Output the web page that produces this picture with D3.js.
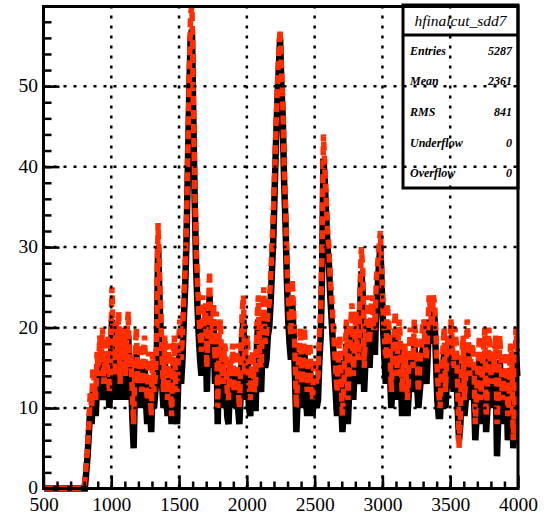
<!DOCTYPE html>
<html>
<head>
<meta charset="utf-8">
<script src="https://cdn.jsdelivr.net/npm/d3@7"></script>
<style>
  body { margin: 0; background: #fff; }
  svg { display: block; }
  svg text { font-family: "Liberation Serif", "Times New Roman", Tinos, "DejaVu Serif", serif; }
</style>
</head>
<body>
<svg id="chart" width="554" height="516"></svg>
<script>
// histogram bins: first bin center and width
let binStart = 505, binWidth = 10;

// black series (bin contents), 20 bins per row
let blackCounts = [
  0,0,0,0,0,0,0,0,0,0, 0,0,0,0,0,0,0,0,0,0,
  0,0,0,0,0,0,0,0,0,0, 0,2,4,7,10,8,12,11,9,13,
  11,15,13,17,11,14,12,16,10,13, 21,15,11,18,14,19,11,16,13,17,
  11,16,19,12,14,9,5,13,17,10, 12,15,10,13,16,11,8,14,10,7,
  14,10,12,15,30,24,19,13,10,16, 12,9,15,11,8,13,16,10,8,14,
  18,13,16,21,25,31,40,49,56,57, 46,36,28,23,19,16,14,21,17,20,
  12,18,24,15,17,20,13,19,8,16, 18,12,10,15,14,9,8,13,11,15,
  10,13,15,10,8,12,19,21,11,15, 16,10,9,13,14,10,10,18,21,13,
  12,17,22,15,16,19,20,23,27,31, 37,43,48,52,56,50,46,38,33,26,
  21,18,16,23,19,14,7,11,14,17, 10,13,17,12,9,15,15,11,9,13,
  13,10,11,16,19,27,41,38,34,30, 28,24,21,18,15,12,9,13,16,11,
  7,10,14,18,8,12,17,20,11,15, 19,14,13,22,27,24,12,16,18,21,
  15,19,21,17,17,23,25,28,30,25, 20,16,13,20,18,15,10,13,16,19,
  11,15,18,14,9,13,15,11,9,12, 17,14,12,18,16,13,10,12,14,17,
  18,15,13,17,21,20,18,22,21,16, 11,9,9,12,14,17,10,13,16,14,
  18,15,12,17,15,10,6,8,13,16, 9,11,18,15,11,14,15,12,6,9,
  12,16,8,11,14,17,7,10,17,13, 10,14,12,16,4,9,16,13,8,11,
  11,14,6,9,15,13,5,8,17,14
];

// red series (bin contents), drawn dashed on top
let redCounts = [
  0,0,0,0,0,0,0,0,0,0, 0,0,0,0,0,0,0,0,0,0,
  0,0,0,0,0,0,0,0,0,0, 1,3,5,8,12,10,15,13,11,17,
  14,19,16,20,13,17,15,19,12,16, 25,18,14,21,17,22,13,19,16,20,
  14,19,22,15,17,12,8,16,20,13, 15,18,12,16,19,14,11,17,13,9,
  17,12,14,18,33,27,22,16,12,19, 15,11,18,14,9,16,19,13,12,17,
  21,16,19,24,27,33,42,51,59,60, 48,38,30,26,22,19,17,24,20,23,
  15,21,27,18,20,23,16,22,10,19, 21,15,13,18,17,12,11,16,14,18,
  12,16,18,13,10,15,22,24,14,18, 19,13,11,16,17,12,13,21,24,16,
  15,20,25,18,19,22,23,26,30,34, 39,45,50,54,57,52,48,40,35,28,
  24,21,19,26,22,17,10,14,17,20, 13,16,20,15,12,18,18,14,11,16,
  16,13,14,19,22,30,44,40,36,32, 30,26,24,21,18,15,12,16,19,14,
  9,13,17,21,11,15,20,23,14,18, 22,17,16,25,30,27,15,19,21,24,
  18,22,24,20,20,26,28,30,32,27, 22,19,16,23,21,18,12,16,19,22,
  14,18,21,17,12,16,18,14,11,15, 20,17,15,21,19,16,12,15,17,20,
  21,18,16,20,24,22,20,24,23,19, 14,12,10,15,17,20,12,16,19,17,
  21,18,15,20,18,13,5,9,16,19, 11,14,21,18,14,17,18,15,8,12,
  15,19,11,14,17,20,9,13,20,16, 13,17,15,19,8,12,19,16,11,14,
  14,17,9,12,18,16,6,11,20,17
];

let xTicks = [500,1000,1500,2000,2500,3000,3500,4000];
let yTicks = [0,10,20,30,40,50];
let statTitle = "hfinalcut_sdd7";
let statNames = ["Entries","Mean","RMS","Underflow","Overflow"];
let statValues = ["5287","2361","841","0","0"];

let svg = d3.select("#chart");
let padL = 43.5, padR = 518, padT = 6.5, padB = 488.5;

let x = d3.scaleLinear().domain([500,4000]).range([padL,padR]);
let y = d3.scaleLinear().domain([0,59.9]).range([padB,padT]);

let line = d3.line()
    .x(function(d,i){ return x(binStart + i*binWidth); })
    .y(function(d){ return y(d); });

svg.append("path")
    .datum(blackCounts)
    .attr("d", line)
    .attr("fill","none")
    .attr("stroke","#000")
    .attr("stroke-width",6.5);

svg.append("path")
    .datum(redCounts)
    .attr("d", line)
    .attr("fill","none")
    .attr("stroke","#ff2d00")
    .attr("stroke-width",5.5)
    .attr("stroke-dasharray","9,5");

// stats box
let box = svg.append("g").attr("class","stats");
box.append("rect")
    .attr("x",403).attr("y",5).attr("width",115).attr("height",183)
    .attr("fill","#fff").attr("stroke","#000").attr("stroke-width",3);
box.append("line")
    .attr("x1",403).attr("x2",518).attr("y1",35).attr("y2",35)
    .attr("stroke","#000").attr("stroke-width",3);
box.append("text")
    .attr("x",460.5).attr("y",26)
    .attr("text-anchor","middle")
    .style("font-style","italic")
    .style("font-size","15.5px")
    .text(statTitle);
let rowH = 153/statNames.length;
statNames.forEach(function(n,i){
    let yy = 35 + rowH*(i+0.5) + 4.5;
    box.append("text")
        .attr("x",410).attr("y",yy)
        .style("font-style","italic").style("font-weight","bold")
        .style("font-size","12px")
        .text(n);
    box.append("text")
        .attr("x",512).attr("y",yy)
        .attr("text-anchor","end")
        .style("font-style","italic").style("font-weight","bold")
        .style("font-size","12px")
        .text(statValues[i]);
});

// dotted grid on top
let grid = svg.append("g").attr("class","grid")
    .attr("stroke","#000").attr("stroke-width",2.5).attr("stroke-dasharray","3,7");
grid.selectAll("line.v")
    .data(xTicks.slice(1,-1))
    .enter().append("line")
    .attr("x1",function(d){ return x(d); }).attr("x2",function(d){ return x(d); })
    .attr("y1",padB).attr("y2",padT);
grid.selectAll("line.h")
    .data(yTicks.slice(1))
    .enter().append("line")
    .attr("y1",function(d){ return y(d); }).attr("y2",function(d){ return y(d); })
    .attr("x1",padL).attr("x2",padR);

// axes
let xMinor = svg.append("g").attr("transform","translate(0,"+padB+")")
    .call(d3.axisBottom(x).tickValues(d3.range(600,4000,100)).tickSize(-7).tickFormat(""));
let xMajor = svg.append("g").attr("transform","translate(0,"+padB+")")
    .call(d3.axisBottom(x).tickValues(xTicks).tickSize(-13).tickFormat(d3.format("d")));
xMajor.selectAll("text").attr("dy",null).attr("y",22)
    .style("font-size","19.5px").attr("fill","#000");

let yMinor = svg.append("g").attr("transform","translate("+padL+",0)")
    .call(d3.axisLeft(y).tickValues(d3.range(2,60,2)).tickSize(-8).tickFormat(""));
let yMajor = svg.append("g").attr("transform","translate("+padL+",0)")
    .call(d3.axisLeft(y).tickValues(yTicks).tickSize(-16).tickPadding(5.5).tickFormat(d3.format("d")));
yMajor.selectAll("text").attr("dy","0.28em")
    .style("font-size","19.5px").attr("fill","#000");

svg.selectAll("g").attr("font-family",null);
svg.selectAll(".domain").remove();
svg.selectAll(".tick line").attr("stroke","#000").attr("stroke-width",2.5);

svg.append("rect")
    .attr("x",padL).attr("y",padT)
    .attr("width",padR-padL).attr("height",padB-padT)
    .attr("fill","none").attr("stroke","#000").attr("stroke-width",3);
</script>
</body>
</html>
